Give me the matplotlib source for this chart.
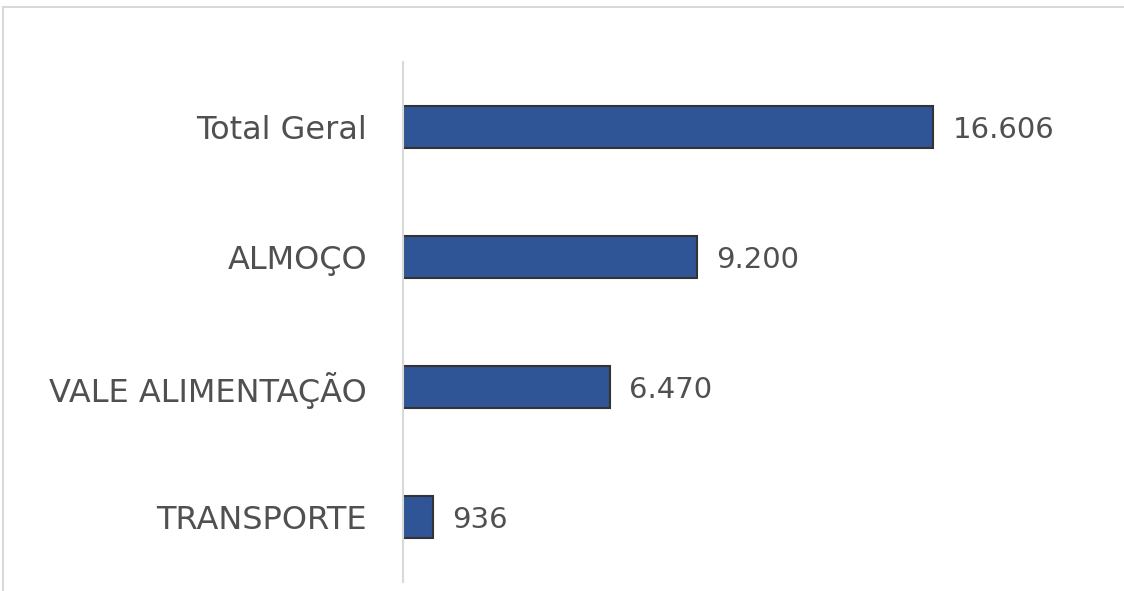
import matplotlib.pyplot as plt
from matplotlib.patches import Rectangle

# ── Data ──────────────────────────────────────────────────────────────────────
categories = ["TRANSPORTE", "VALE ALIMENTAÇÃO", "ALMOÇO", "Total Geral"]
values     = [936, 6470, 9200, 16606]
labels     = ["936", "6.470", "9.200", "16.606"]

BAR_COLOR  = "#2F5597"
TEXT_COLOR = "#505050"

# ── Plot ──────────────────────────────────────────────────────────────────────
plt.rcParams["font.family"] = ["DejaVu Sans"]

fig = plt.figure(figsize=(11.24, 5.91), dpi=100)
ax = fig.add_axes([403 / 1124, 1 - 582 / 591, (1110 - 403) / 1124, 520 / 591])

y = range(len(categories))
ax.barh(y, values, height=0.32, color=BAR_COLOR, edgecolor="#333333", lw=1.5)

for yi, v, lab in zip(y, values, labels):
    ax.annotate(lab, (v, yi), xytext=(14, -2), textcoords="offset points",
                va="center", ha="left", fontsize=21, color=TEXT_COLOR)

ax.set_xlim(0, 22150)
ax.set_ylim(-0.5, 3.5)
ax.set_yticks(list(y))
ax.set_yticklabels(categories, fontsize=23, color=TEXT_COLOR)
ax.tick_params(axis="y", length=0, pad=26)
ax.set_xticks([])

for s in ["top", "right", "bottom"]:
    ax.spines[s].set_visible(False)
ax.spines["left"].set_color("#d9d9d9")
ax.spines["left"].set_linewidth(1.5)

# light frame of the chart area
fig.patches.append(Rectangle((3 / 1124, -0.01), 1.02, 1 - 7 / 591 + 0.01,
                             transform=fig.transFigure, fill=False,
                             edgecolor="#d9d9d9", lw=1.5))

fig.savefig("out.png", dpi=100)
